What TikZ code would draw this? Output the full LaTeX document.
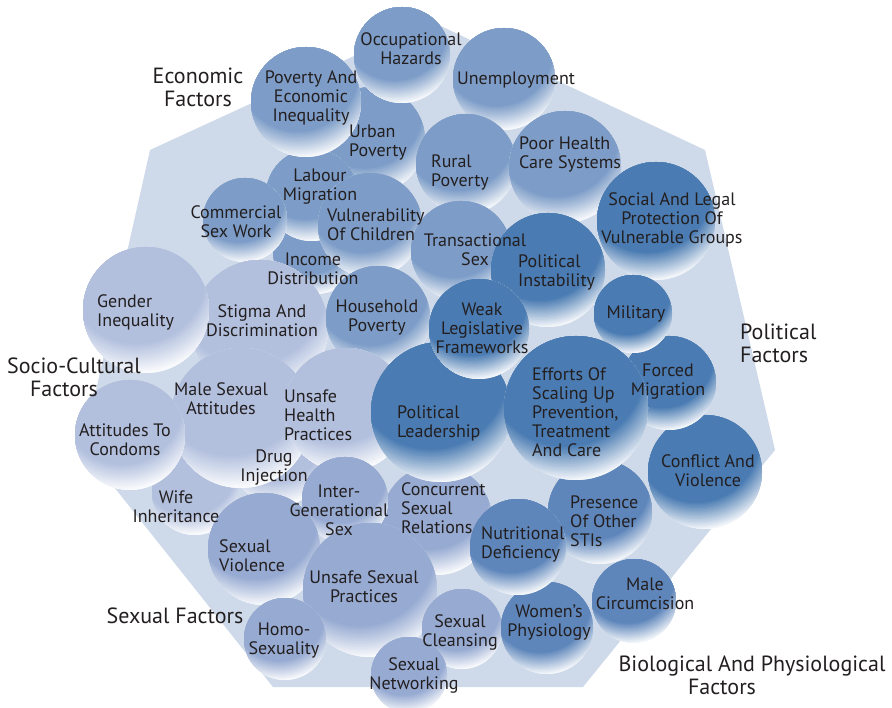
\documentclass[tikz,border=0pt]{standalone}
\usepackage{fontspec}
\setmainfont{PT Sans}
\usepackage{tikz}

\definecolor{hexbg}{HTML}{CEDAEA}
\definecolor{econblue}{HTML}{7D9DC8}
\definecolor{politblue}{HTML}{4A7BB2}
\definecolor{socioblue}{HTML}{B2C0DE}
\definecolor{sexblue}{HTML}{96AAD2}
\definecolor{bioblue}{HTML}{5E86BB}
\definecolor{inkgray}{HTML}{231F20}
\colorlet{bubcol}{econblue}

% flat on top, fading to white at the lower rim (stepped rings)
\newcommand\bubgrad[1]{%
  \fill[bubcol!6!white] (path picture bounding box.south west) rectangle (path picture bounding box.north east);
  \foreach \k in {0,...,20}{%
    \pgfmathtruncatemacro\mix{6+94*\k/20}%
    \pgfmathsetmacro\rad{(1.6-0.48*\k/20)*#1}%
    \fill[bubcol!\mix!white] ([xshift=-0.15*#1pt, yshift=0.58*#1pt]path picture bounding box.center) circle (\rad pt);
  }}

\newcommand\bubfont{\fontsize{18}{19}\selectfont}
\newcommand\grpfont{\fontsize{22}{23}\selectfont}

\tikzset{
  bubcolour/.code={\colorlet{bubcol}{#1}},
  bubble/.style={circle, inner sep=0pt, minimum size={#1*2pt}, path picture={\bubgrad{#1}}},
  econ/.style={bubcolour=econblue, bubble=#1},
  polit/.style={bubcolour=politblue, bubble=#1},
  socio/.style={bubcolour=socioblue, bubble=#1},
  sexual/.style={bubcolour=sexblue, bubble=#1},
  bio/.style={bubcolour=bioblue, bubble=#1},
  lbl/.style={align=center, font=\bubfont, text=inkgray, inner sep=0pt},
  lbll/.style={lbl, align=left, anchor=west},
  grp/.style={align=center, font=\grpfont, text=inkgray, inner sep=0pt}
}

\begin{document}
\begin{tikzpicture}[x=1pt, y=-1pt]
  \useasboundingbox (0,0) rectangle (892,708);
  \fill[hexbg] (430,21) -- (705,150) -- (775,450) -- (583,687) -- (273,687) -- (83,448) -- (150,150) -- cycle;

  % bubbles, back to front
  \node[socio=50] (drug) at (280,455) {};
  \node[socio=43] (wife) at (195,492) {};
  \node[econ=43] (income) at (316,251) {};
  \node[econ=53] (urban) at (372,140) {};
  \node[econ=46] (labour) at (312,195) {};
  \node[econ=55] (povineq) at (306,102) {};
  \node[econ=48] (occ) at (402,55) {};
  \node[econ=51] (unemp) at (504,79) {};
  \node[econ=50] (rural) at (466,164) {};
  \node[econ=56] (poorhealth) at (565,167) {};
  \node[econ=42] (commercial) at (245,220) {};
  \node[econ=52] (vulner) at (370,225) {};
  \node[econ=50] (trans) at (461,251) {};
  \node[polit=59] (socleg) at (656,221) {};
  \node[polit=57] (polinst) at (548,270) {};
  \node[socio=68] (stigma) at (260,328) {};
  \node[socio=63] (gender) at (146,310) {};
  \node[econ=52] (household) at (378,318) {};
  \node[socio=70] (malesex) at (241,418) {};
  \node[socio=55] (condoms) at (130,435) {};
  \node[socio=62] (unsafehealth) at (346,410) {};
  \node[polit=57] (conflict) at (705,472) {};
  \node[polit=47] (forced) at (669,383) {};
  \node[polit=39] (military) at (633,314) {};
  \node[bio=52] (presence) at (600,512) {};
  \node[sexual=55] (concurrent) at (437,520) {};
  \node[polit=70] (polead) at (441,412) {};
  \node[polit=50] (weak) at (479,329) {};
  \node[polit=72] (efforts) at (576,408) {};
  \node[sexual=43] (intergen) at (345,500) {};
  \node[sexual=56] (sexviol) at (264,549) {};
  \node[sexual=67] (unsafesex) at (370,590) {};
  \node[sexual=41] (homo) at (285,639) {};
  \node[sexual=40] (cleansing) at (462,629) {};
  \node[sexual=38] (networking) at (409,675) {};
  \node[bio=46] (womens) at (547,628) {};
  \node[bio=48] (nutri) at (518,547) {};
  \node[bio=42] (malecirc) at (634,601) {};

  % texts on top of all bubbles
  \node[lbl] (povineq-t) at (311,98) {Poverty And\\Economic\\Inequality};
  \node[lbl] (occ-t) at (411,49) {Occupational\\Hazards};
  \node[lbl] (unemp-t) at (516,80) {Unemployment};
  \node[lbll] (urban-t) at (349,143) {Urban\\Poverty};
  \node[lbll] (rural-t) at (431,172) {Rural\\Poverty};
  \node[lbll] (poorhealth-t) at (519,154) {Poor Health\\Care Systems};
  \node[lbl] (labour-t) at (320,187) {Labour\\Migration};
  \node[lbl] (commercial-t) at (236,222) {Commercial\\Sex Work};
  \node[lbll] (vulner-t) at (327,225) {Vulnerability\\Of Children};
  \node[lbl] (income-t) at (313,269) {Income\\Distribution};
  \node[lbl] (trans-t) at (475,250) {Transactional\\Sex};
  \node[lbl] (socleg-t) at (672,220) {Social And Legal\\Protection Of\\Vulnerable Groups};
  \node[lbll] (polinst-t) at (518,272) {Political\\Instability};
  \node[lbl] (military-t) at (636,314) {Military};
  \node[lbl] (forced-t) at (668,382) {Forced\\Migration};
  \node[lbl] (conflict-t) at (708,471) {Conflict And\\Violence};
  \node[lbll] (efforts-t) at (532,412) {Efforts Of\\Scaling Up\\Prevention,\\Treatment\\And Care};
  \node[lbll] (polead-t) at (397,423) {Political\\Leadership};
  \node[lbl] (weak-t) at (482,328) {Weak\\Legislative\\Frameworks};
  \node[lbl] (household-t) at (377,318) {Household\\Poverty};
  \node[lbll] (gender-t) at (97,312) {Gender\\Inequality};
  \node[lbl] (stigma-t) at (262,321) {Stigma And\\Discrimination};
  \node[lbl] (malesex-t) at (221,399) {Male Sexual\\Attitudes};
  \node[lbll] (unsafehealth-t) at (284,415) {Unsafe\\Health\\Practices};
  \node[lbl] (condoms-t) at (125,440) {Attitudes To\\Condoms};
  \node[lbl] (drug-t) at (274,468) {Drug\\Injection};
  \node[lbl] (wife-t) at (176,507) {Wife\\Inheritance};
  \node[lbl] (intergen-t) at (339,510) {Inter-\\Generational\\Sex};
  \node[lbll] (concurrent-t) at (401,508) {Concurrent\\Sexual\\Relations};
  \node[lbll] (sexviol-t) at (219,556) {Sexual\\Violence};
  \node[lbl] (unsafesex-t) at (364,587) {Unsafe Sexual\\Practices};
  \node[lbl] (homo-t) at (284,641) {Homo-\\Sexuality};
  \node[lbl] (cleansing-t) at (460,632) {Sexual\\Cleansing};
  \node[lbl] (networking-t) at (414,675) {Sexual\\Networking};
  \node[lbll] (nutri-t) at (481,544) {Nutritional\\Deficiency};
  \node[lbll] (presence-t) at (570,521) {Presence\\Of Other\\STIs};
  \node[lbl] (womens-t) at (549,623) {Women's\\Physiology};
  \node[lbl] (malecirc-t) at (645,594) {Male\\Circumcision};

  % factor groups
  \node[grp] (econ-g) at (198,87) {Economic\\Factors};
  \node[grp, align=left, anchor=west] (polit-g) at (740,343) {Political\\Factors};
  \node[grp] (socio-g) at (74,377) {Socio-Cultural\\Factors\hspace*{20pt}};
  \node[grp] (sex-g) at (175,616) {Sexual Factors};
  \node[grp] (bio-g) at (752,675) {Biological And Physiological\\Factors\hspace*{60pt}};
\end{tikzpicture}
\end{document}
